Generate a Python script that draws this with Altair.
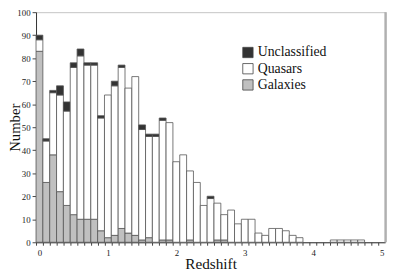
import altair as alt
import pandas as pd

# redshift bins (width 0.1), labelled by lower edge
bins = [f"{i/10:.1f}" for i in range(51)]

galaxies = [83, 26, 38, 22, 16, 12, 10, 10, 10, 5,
            2, 3, 6, 4, 3, 1, 2, 0, 1, 1,
            0, 0, 1, 0, 0, 0, 1, 1, 0, 0,
            0, 0, 0, 0, 0, 0, 0, 0, 0, 0,
            0, 0, 0, 0, 0, 0, 0, 0, 0, 0, 0]
quasars = [5, 18, 27, 42, 41, 64, 71, 67, 67, 49,
           62, 65, 70, 63, 69, 48, 44, 46, 52, 51,
           35, 38, 30, 26, 16, 19, 16, 11, 14, 8,
           10, 10, 4, 3, 6, 6, 5, 3, 2, 0,
           0, 0, 0, 1, 1, 1, 1, 1, 0, 0, 0]
unclassified = [2, 1, 1, 4, 4, 2, 3, 1, 1, 1,
                0, 2, 1, 0, 0, 2, 1, 1, 1, 0,
                0, 0, 0, 0, 0, 1, 0, 0, 0, 0,
                0, 0, 0, 0, 0, 0, 0, 0, 0, 0,
                0, 0, 0, 0, 0, 0, 0, 0, 0, 0, 0]

types = ["Unclassified", "Quasars", "Galaxies"]
fills = ["#333333", "#ffffff", "#c0c0c0"]

rows = []
for b, g, q, u in zip(bins, galaxies, quasars, unclassified):
    for name, val, o in (("Galaxies", g, 0), ("Quasars", q, 1), ("Unclassified", u, 2)):
        if val > 0:
            rows.append({"z": b, "type": name, "n": val, "ord": o})
df = pd.DataFrame(rows)

W, H = 355, 234
HALF_BAND = W / len(bins) / 2
FONT = "Liberation Serif"

bars = alt.Chart(df).mark_bar(stroke="#555555", strokeWidth=0.8).encode(
    x=alt.X("z:O",
            scale=alt.Scale(domain=bins, paddingInner=0, paddingOuter=0),
            axis=alt.Axis(title="Redshift",
                          labelExpr="slice(datum.value, -1) == '0' ? slice(datum.value, 0, 1) : ''",
                          labelAngle=0, labelOverlap=False,
                          tickOffset=-HALF_BAND, labelOffset=HALF_BAND,
                          tickSize=3, labelPadding=3, titlePadding=0,
                          domainColor="#333333", tickColor="#444444",
                          labelFont=FONT, labelFontSize=9, labelColor="#222222",
                          titleFont=FONT, titleFontSize=15.5, titleFontWeight="normal",
                          titleColor="#111111")),
    y=alt.Y("n:Q", stack="zero",
            scale=alt.Scale(domain=[0, 100], nice=False),
            axis=alt.Axis(title="Number", values=list(range(0, 101, 10)), grid=False,
                          tickSize=4, labelPadding=2, titlePadding=-6,
                          domainColor="#333333", tickColor="#444444",
                          labelFont=FONT, labelFontSize=9, labelColor="#222222",
                          titleFont=FONT, titleFontSize=15, titleFontWeight="normal",
                          titleColor="#111111")),
    color=alt.Color("type:N",
                    scale=alt.Scale(domain=types, range=fills),
                    legend=alt.Legend(title=None, orient="none", legendX=208.5, legendY=34,
                                      symbolType="square", symbolSize=110,
                                      symbolStrokeColor="#444444", symbolStrokeWidth=0.8,
                                      labelFont=FONT, labelFontSize=14, labelColor="#111111",
                                      labelOffset=3, rowPadding=2.5, padding=0)),
    order=alt.Order("ord:Q"),
)

# thicker grey frame line on the right edge of the plot area
right_edge = alt.Chart(pd.DataFrame({"edge": [1]})).mark_rule(
    color="#b0b0b0", strokeWidth=2.5
).encode(x=alt.value(W + 0.5), y=alt.value(0), y2=alt.value(H))

chart = alt.layer(bars, right_edge).properties(
    width=W, height=H,
    autosize=alt.AutoSizeParams(type="none"),
    padding={"left": 28.5, "top": 2, "right": 6, "bottom": 28},
).configure(font=FONT).configure_view(stroke="#c4c4c4", strokeWidth=1)

chart.save("out.html", embed_options={"renderer": "svg", "actions": False})
